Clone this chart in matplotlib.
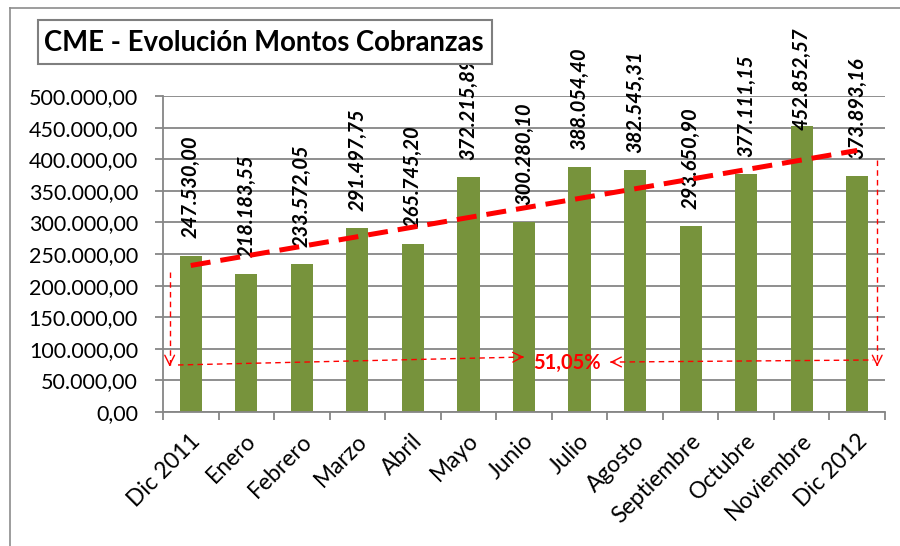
import numpy as np
import matplotlib
matplotlib.use("Agg")
import matplotlib.pyplot as plt
import matplotlib.transforms as mtransforms
from matplotlib.patches import Rectangle
from matplotlib.lines import Line2D

categories = ["Dic 2011", "Enero", "Febrero", "Marzo", "Abril", "Mayo", "Junio",
              "Julio", "Agosto", "Septiembre", "Octubre", "Noviembre", "Dic 2012"]
montos = [247530.00, 218183.55, 233572.05, 291497.75, 265745.20, 372215.89, 300280.10,
          388054.40, 382545.31, 293650.90, 377111.15, 452852.57, 373893.16]
yticks = [0, 50000, 100000, 150000, 200000, 250000, 300000, 350000, 400000, 450000, 500000]
title = "CME - Evolución Montos Cobranzas"

FONT = "Lato"
plt.rcParams['font.family'] = [FONT, 'DejaVu Sans']


def fmt_es(v, dec=2):
    s = f"{v:,.{dec}f}"
    return s.replace(",", "X").replace(".", ",").replace("X", ".")


W, H = 900, 546
fig = plt.figure(figsize=(9, 5.46), dpi=100)
fig.patch.set_facecolor("white")

# outer chart border (left + top visible)
fig.add_artist(Line2D([10 / W, 10 / W], [0, 1 - 8 / H], transform=fig.transFigure,
                      color="#8c8c8c", lw=1.2))
fig.add_artist(Line2D([10 / W, 1], [1 - 8 / H, 1 - 8 / H], transform=fig.transFigure,
                      color="#8c8c8c", lw=1.2))

left, right, top, bottom = 163, 885, 96, 412
ax = fig.add_axes([left / W, 1 - bottom / H, (right - left) / W, (bottom - top) / H])

x = np.arange(len(categories))
ax.bar(x, montos, width=0.4, color="#77933C", zorder=2)

ax.set_xlim(-0.5, len(categories) - 0.5)
ax.set_ylim(0, 500000)
ax.set_yticks(yticks)
ax.set_yticklabels([fmt_es(v) for v in yticks], fontsize=15.5)
ax.yaxis.grid(True, color="#868686", lw=1.3, zorder=0)
ax.set_axisbelow(True)

ax.set_xticks(x)
ax.set_xticklabels(categories, rotation=45, ha="right", va="top",
                   rotation_mode="anchor", fontsize=16.5)
ax.tick_params(axis="x", length=0, pad=13)
offset = mtransforms.ScaledTranslation(-1 / 100, 0, fig.dpi_scale_trans)
for lab in ax.get_xticklabels():
    lab.set_transform(lab.get_transform() + offset)
ax.set_xticks(np.arange(-0.5, len(categories), 1), minor=True)
ax.tick_params(axis="x", which="minor", length=6, color="#868686", width=1.3)
ax.tick_params(axis="y", length=6, color="#868686", width=1.3, pad=12)

for s in ["top", "right"]:
    ax.spines[s].set_visible(False)
for s in ["left", "bottom"]:
    ax.spines[s].set_color("#868686")
    ax.spines[s].set_linewidth(1.3)

# data labels
for xi, v in zip(x, montos):
    yl = min(v + 27000, 446000)
    ax.text(xi, yl, fmt_es(v), rotation=90, ha="center", va="bottom",
            fontsize=14.5, fontweight="bold", fontstyle="italic", color="black",
            clip_on=False, zorder=4)

# linear trendline
coef = np.polyfit(x, montos, 1)
ax.plot([x[0], x[-1]], np.polyval(coef, [x[0], x[-1]]), color="#FF0000", lw=3.6,
        dashes=(4, 2), zorder=5, solid_capstyle="butt", dash_capstyle="butt")

# growth annotation
growth = (montos[-1] / montos[0] - 1) * 100
red = "#FF0000"
dl = dict(color=red, lw=1.0, ls=(0, (4, 3)), zorder=6)
head = dict(arrowstyle="->,head_length=0.7,head_width=0.35", color=red, lw=1.0)

ax.plot([-0.38, -0.38], [221500, 75000], **dl)
ax.annotate("", xy=(-0.38, 72000), xytext=(-0.38, 80000), arrowprops=head, zorder=6)
ax.plot([12.36, 12.36], [398700, 75000], **dl)
ax.annotate("", xy=(12.36, 72000), xytext=(12.36, 80000), arrowprops=head, zorder=6)

ax.plot([-0.23, 6.0], [74400, 87000], **dl)
ax.annotate("", xy=(6.05, 87200), xytext=(5.9, 86900), arrowprops=head, zorder=6)
ax.plot([7.55, 12.29], [79000, 82300], **dl)
ax.annotate("", xy=(7.5, 79000), xytext=(7.65, 79100), arrowprops=head, zorder=6)
ax.text(6.78, 77000, fmt_es(growth) + "%", color=red, fontsize=14.5, fontweight="bold",
        ha="center", va="center", zorder=7)

# title box
fig.add_artist(Rectangle((38 / W, 1 - 64 / H), (492 - 38) / W, (64 - 20) / H,
                         transform=fig.transFigure, facecolor="white",
                         edgecolor="#7f7f7f", lw=1.5, zorder=3))
fig.text(264 / W, 1 - 43 / H, title, ha="center", va="center", fontsize=19.8,
         fontweight="bold", color="black", zorder=4)

fig.savefig("out.png", dpi=100)
